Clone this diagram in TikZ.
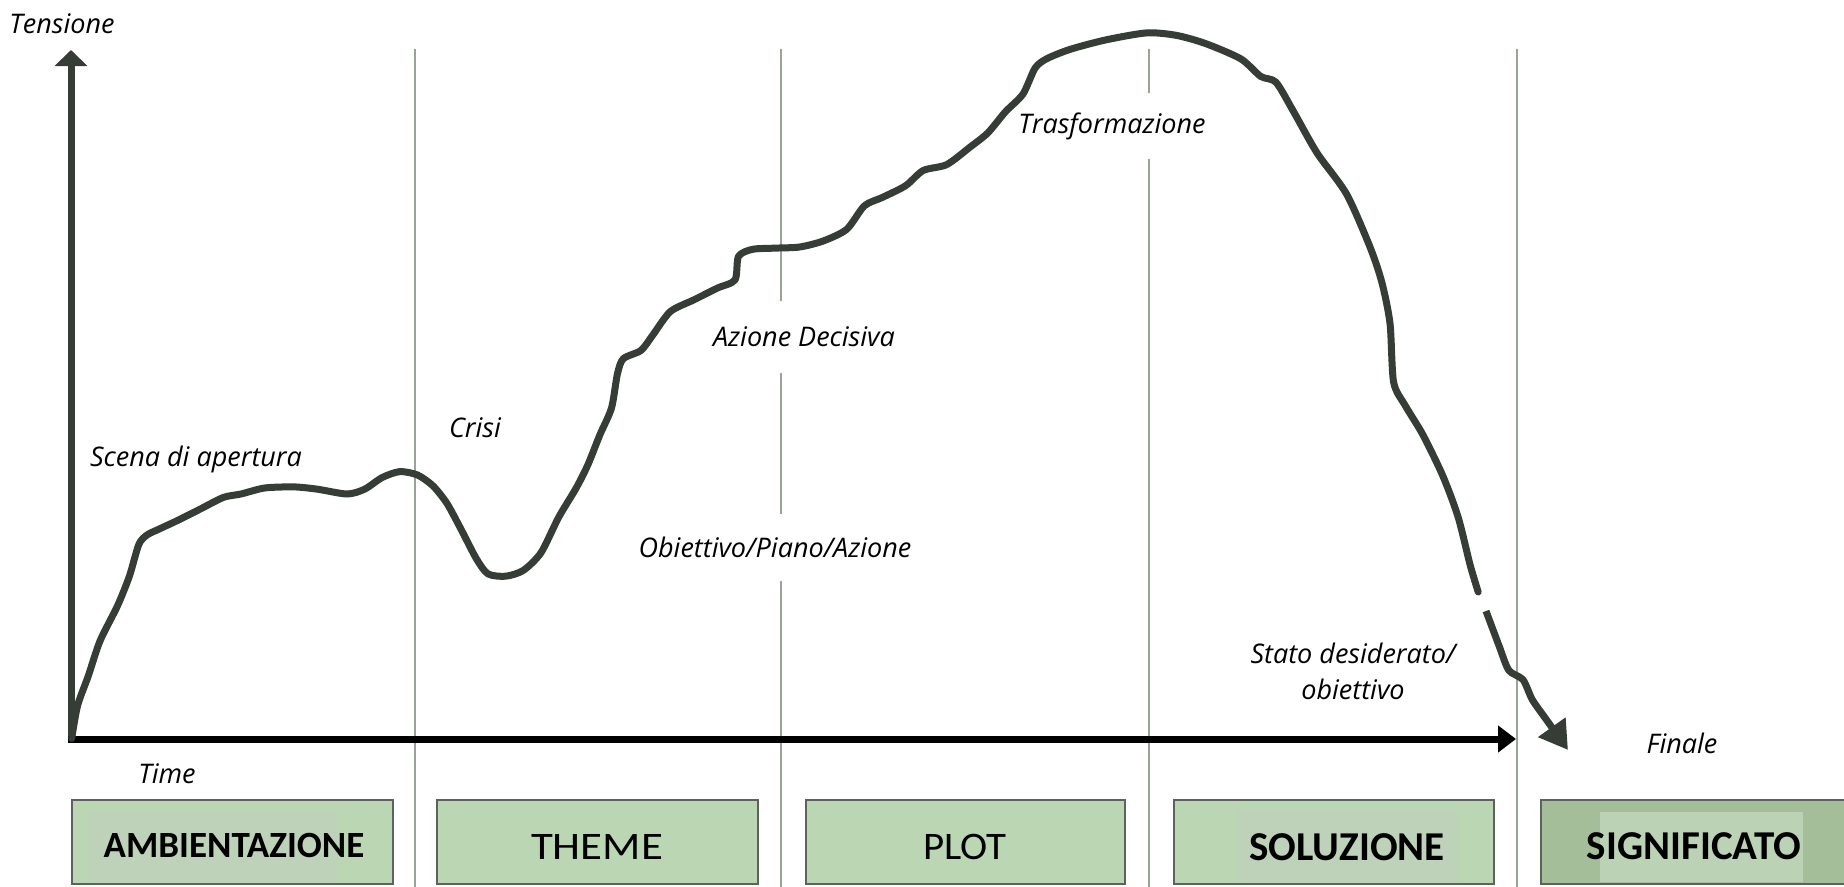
\documentclass[tikz,border=0pt]{standalone}
\usepackage{fontspec}
\setmainfont{Open Sans}
\newfontfamily\boxfont{Carlito}
\usetikzlibrary{arrows.meta}
\definecolor{curvecol}{HTML}{363C36}
\definecolor{guidegray}{HTML}{9AA29A}
\definecolor{boxgreen}{HTML}{BBD6B3}
\definecolor{boxinner}{HTML}{BDD2B8}
\definecolor{sigouter}{HTML}{A3BE98}
\definecolor{siginner}{HTML}{BCD2B5}
\definecolor{boxborder}{HTML}{5E625E}
\begin{document}
\begin{tikzpicture}[x=1pt,y=-1pt,
  guide/.style={draw=guidegray, line width=2.3pt},
  lbl/.style={font=\fontsize{27}{36}\selectfont\itshape, inner sep=0pt},
  gaplbl/.style={lbl, fill=white, inner xsep=3pt},
  stagebox/.style={draw=boxborder, line width=1.6pt, fill=boxgreen, minimum height=84pt, inner sep=0pt},
  innerpatch/.style={inner sep=0pt, draw=none},
  stagetext/.style={inner sep=0pt, text=black},
  tensioncurve/.style={draw=curvecol, line width=7pt, line cap=round, line join=round},
  yaxis/.style={draw=curvecol, line width=7pt, -{Triangle[length=16pt,width=32pt]}},
  xaxis/.style={draw=black, line width=7pt, -{Triangle[length=18pt,width=26pt]}}
]
\useasboundingbox (0,0) rectangle (1844,886);

% guide lines
\coordinate (g1t) at (415,49);  \coordinate (g1b) at (415,890);
\coordinate (g2t) at (781,49);  \coordinate (g2b) at (781,890);
\coordinate (g3t) at (1149,49); \coordinate (g3b) at (1149,890);
\coordinate (g4t) at (1517,49); \coordinate (g4b) at (1517,890);
\draw[guide] (g1t) -- (g1b);
\draw[guide] (g2t) -- (g2b);
\draw[guide] (g3t) -- (g3b);
\draw[guide] (g4t) -- (g4b);

% labels
\node[lbl] (tens) at (62,24) {Tensione};
\node[lbl] (time) at (167,774) {Time};
\node[lbl] (finale) at (1682,743) {Finale};
\node[lbl] (scena) at (196,459) {Scena di apertura};
\node[lbl] (crisi) at (475,428) {Crisi};
\node[gaplbl, minimum height=72pt] (azione) at (804,337) {Azione Decisiva};
\node[gaplbl, minimum height=67pt] (obiet) at (775,547) {Obiettivo/Piano/Azione};
\node[gaplbl, minimum height=66pt] (trasf) at (1112,126) {Trasformazione};
\node[lbl, align=center] (stato) at (1353,671) {Stato desiderato/\\obiettivo};

% stage boxes
\node[stagebox, minimum width=321pt] (b1) at (232.5,842) {};
\node[stagebox, minimum width=321pt] (b2) at (597.5,842) {};
\node[stagebox, minimum width=319pt] (b3) at (965.5,842) {};
\node[stagebox, minimum width=320pt] (b4) at (1334,842) {};
\node[stagebox, fill=sigouter, minimum width=330pt] (b5) at (1706,842) {};

\node[innerpatch, fill=boxinner, minimum width=249pt, minimum height=70pt] (p1) at (212.5,846.5) {};
\node[innerpatch, fill=boxinner, minimum width=221pt, minimum height=72pt] (p4) at (1347.5,846) {};
\node[innerpatch, fill=siginner, minimum width=203pt, minimum height=70pt] (p5) at (1701.5,846.5) {};

\node[stagetext] (t1) at (234,845)
  {\boxfont\bfseries\fontsize{37}{40}\selectfont AMBIENTAZIONE};
\node[stagetext] (t2) at (597,847)
  {\scalebox{1.15}[1]{\boxfont\fontsize{39}{42}\selectfont THEME}};
\node[stagetext] (t3) at (965,847)
  {\scalebox{1.05}[1]{\boxfont\fontsize{39}{42}\selectfont PLOT}};
\node[stagetext] (t4) at (1347,847)
  {\boxfont\bfseries\fontsize{41}{44}\selectfont SOLUZIONE};
\node[stagetext] (t5) at (1694,846)
  {\boxfont\bfseries\fontsize{41}{44}\selectfont SIGNIFICATO};

% axes
\coordinate (O) at (71,742);
\coordinate (ytop) at (71,50);
\coordinate (xo) at (68,739);
\coordinate (xend) at (1516,739);
\draw[yaxis] (O) -- (ytop);
\draw[xaxis] (xo) -- (xend);

% tension curve
\draw[tensioncurve] plot[smooth, tension=0.45] coordinates {
(71.7,738.5) (77.6,705.6) (88.2,676.2) (100,641) (117.6,605.6) (129.4,576.2) (138.8,544.5)
(147,535) (158.8,529.2) (176.4,521) (200,509.2) (223.4,497.4) (241,494) (264.6,488)
(294,486.9) (317.5,489.2) (347,494) (364.6,489.2) (382.2,477.5) (399.8,471.6) (417.5,475)
(432.8,485.7) (446.9,503.3) (461,529.2) (476.3,558.6) (488,573.9) (505.7,576.2) (523.3,570.4)
(541,552.7) (558.6,517.4) (576.2,488) (588,464.5) (599.8,435) (611.5,408) (617.4,374)
(623.3,358.7) (641,350.4) (652.7,335.2) (670.3,311.6) (693.8,299.9) (717.4,288.1) (735,279.9)
(738.5,256.4) (752.6,249.3) (776.2,248.1) (799.7,247) (823.2,241) (846.7,229.3) (864.4,205.8)
(882,197.6) (905.5,185.8) (923.2,170.5) (946.7,164.6) (970.2,147) (987.8,132.9) (1005.5,111.7)
(1023,94) (1035,68.2) (1046.6,58.8) (1070,49.4) (1105.4,40) (1146.6,32.9) (1176,35.3)
(1205.4,43.5) (1240.7,58.8) (1260.7,76.4) (1276,82.3) (1293.6,111.7) (1317,152.9) (1346.5,194)
(1370,247) (1381.8,282.2) (1390,323.4) (1393.6,382.2) (1405.3,405.7) (1423,435) (1443,476.3)
(1458.2,517.4) (1470,564.5) (1478.2,592)};
\draw[tensioncurve, line cap=butt, -{Triangle[length=28pt,width=32pt]}] plot[smooth, tension=0.45] coordinates {
(1486,611) (1499.4,646.8) (1508.8,670.3) (1523,679.7) (1532.3,699.7) (1546.4,719.7) (1568,750)};
\end{tikzpicture}
\end{document}
